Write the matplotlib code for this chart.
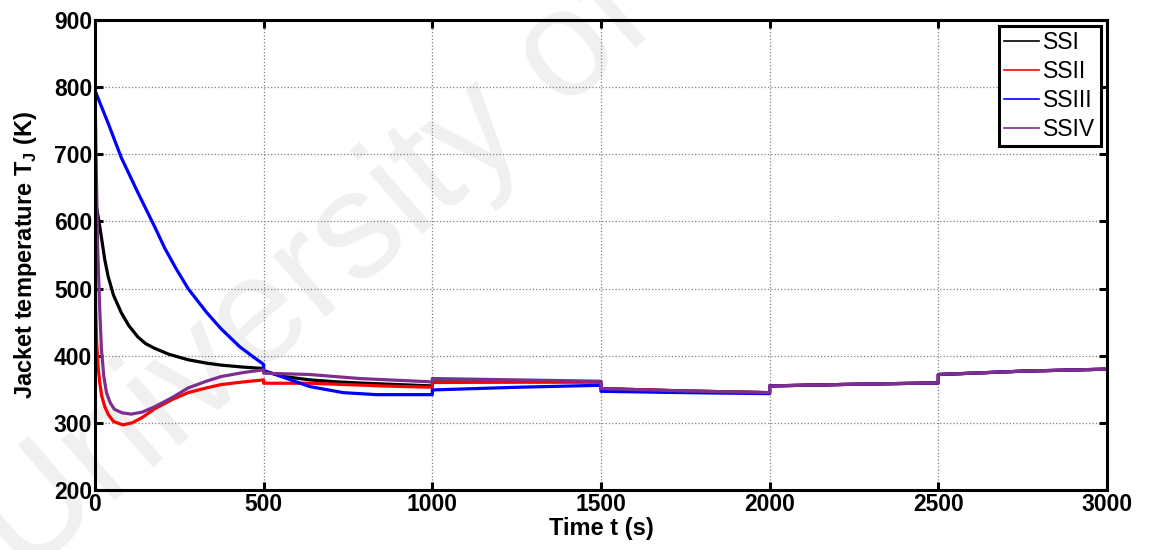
import numpy as np
import matplotlib
matplotlib.use('Agg')
import matplotlib.pyplot as plt

plt.rcParams['font.family'] = ['Liberation Sans', 'DejaVu Sans']
plt.rcParams['font.weight'] = 'bold'
plt.rcParams['mathtext.fontset'] = 'custom'
plt.rcParams['mathtext.bf'] = 'Liberation Sans:bold'
plt.rcParams['mathtext.rm'] = 'Liberation Sans:bold'

# shared tail after t=1500 (all runs merge)
tail_t = [1500, 1750, 2000, 2000, 2250, 2500, 2500, 2750, 3000]
tail_v = [351, 347.5, 345, 355, 357.5, 359.5, 372, 377, 380]

ssi_t = [0, 3, 6, 15, 29, 39, 55, 78, 100, 127, 150, 177, 220, 276, 330, 374, 440, 500,
         500, 560, 637, 720, 800, 900, 1000, 1000, 1250, 1500] + tail_t
ssi_v = [625, 622, 617, 590, 543, 518, 490, 464, 445, 428, 418, 411, 402, 394, 389, 386, 383, 381,
         377, 369, 364, 361, 359, 357, 355, 361, 361, 361] + tail_v

ssii_t = [0, 2, 5, 9, 14, 20, 29, 40, 55, 83, 110, 140, 177, 230, 276, 330, 374, 440, 500,
          500, 637, 850, 1000, 1000, 1250, 1500] + tail_t
ssii_v = [540, 470, 420, 385, 360, 340, 324, 312, 302, 297, 300, 308, 321, 335, 345, 352, 357, 361, 364,
          359, 359, 355, 353, 360, 361, 361] + tail_v

ssiii_t = [0, 40, 78, 130, 177, 207, 240, 276, 330, 374, 430, 470, 500,
           500, 552, 637, 736, 835, 1000, 1000, 1250, 1500, 1500, 1750, 2000] + tail_t[3:]
ssiii_v = [795, 745, 695, 640, 592, 560, 530, 500, 465, 440, 413, 398, 387,
           378, 369, 354, 345, 342, 342, 349, 353, 356, 347, 345, 343.5] + tail_v[3:]

ssiv_t = [0, 3, 8, 14, 19, 26, 34, 45, 58, 80, 107, 140, 177, 230, 276, 330, 374, 440, 500,
          500, 637, 785, 1000, 1000, 1250, 1500] + tail_t
ssiv_v = [800, 700, 560, 470, 410, 370, 345, 330, 320, 315, 313, 316, 324, 338, 352, 362, 369, 375, 379,
          374, 372, 366, 361, 366, 364, 362] + tail_v

labels = ['SSI', 'SSII', 'SSIII', 'SSIV']
colors = ['#000000', '#ff0000', '#0000ff', '#7e2f8e']
xticks = [0, 500, 1000, 1500, 2000, 2500, 3000]
yticks = [200, 300, 400, 500, 600, 700, 800, 900]

fig = plt.figure(figsize=(11.5, 5.5), dpi=100)
# faint watermark behind everything
fig.text(0.021, -0.055, 'University of', fontsize=110, fontweight='normal',
         color='#f0f0f0', rotation=41, rotation_mode='anchor', ha='left', va='baseline', zorder=-10)

ax = fig.add_axes([0.0826, 0.1091, 0.88, 0.8545])
ax.patch.set_alpha(0)

series = [(ssi_t, ssi_v), (ssii_t, ssii_v), (ssiii_t, ssiii_v), (ssiv_t, ssiv_v)]
for (t, v), lab, c in zip(series, labels, colors):
    ax.plot(t, v, color=c, lw=2.3, label=lab)

ax.set_xlim(0, 3000)
ax.set_ylim(200, 900)
ax.set_xticks(xticks)
ax.set_yticks(yticks)
ax.grid(True, linestyle=':', color='#808080', lw=0.9)
for s in ax.spines.values():
    s.set_linewidth(2.2)
ax.tick_params(direction='in', length=6, width=2.2, top=True, right=True, labelsize=16.5, pad=2)
for lbl in ax.get_xticklabels() + ax.get_yticklabels():
    lbl.set_fontweight('bold')

ax.set_xlabel('Time t (s)', fontsize=17, fontweight='bold')
ax.set_ylabel(r'Jacket temperature T$_\mathbf{J}$ (K)', fontsize=17, fontweight='bold')
ax.xaxis.set_label_coords(0.5, -0.058)
ax.yaxis.set_label_coords(-0.055, 0.5)

leg_handles = [plt.Line2D([], [], color=c, lw=1.2) for c in colors]
leg = ax.legend(leg_handles, labels, loc='upper right', fontsize=16.5, fancybox=False,
                edgecolor='black', framealpha=1, handlelength=1.5, handletextpad=0.2,
                labelspacing=0.25, borderpad=0.25, borderaxespad=0.25)
leg.get_frame().set_linewidth(2.2)
for txt in leg.get_texts():
    txt.set_fontweight('normal')

fig.savefig('out.png', dpi=100)
